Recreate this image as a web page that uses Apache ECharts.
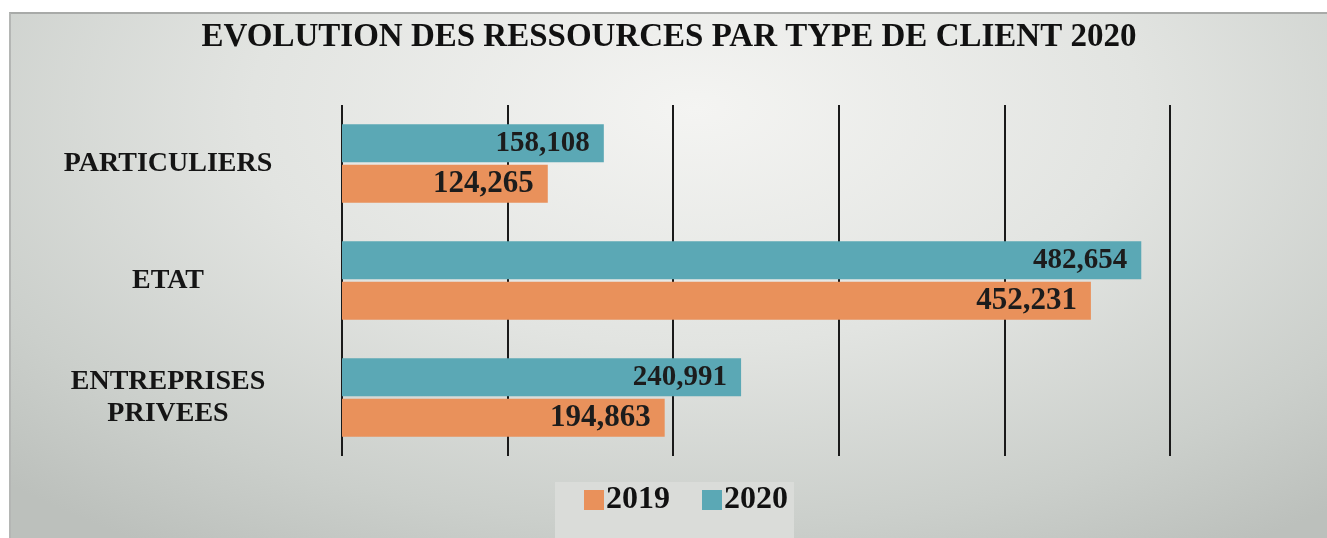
<!DOCTYPE html>
<html>
<head>
<meta charset="utf-8">
<script src="https://cdn.jsdelivr.net/npm/echarts@6/dist/echarts.min.js"></script>
<style>
  html, body { margin: 0; padding: 0; background: #fff; }
  #chart {
    position: absolute;
    left: 9px;
    top: 12px;
    width: 1318px;
    height: 526px;
    border-top: 2px solid #a8aaa8;
    border-left: 2px solid #b4b6b4;
    box-sizing: border-box;
    background: radial-gradient(ellipse 75% 100% at 52% 18%, #f4f4f2 0%, #e2e4e1 45%, #cbcfcb 80%, #bcc0bc 100%);
  }
</style>
</head>
<body>
<div id="chart"></div>
<script>
// categories listed bottom to top (ECharts category y axis grows upward)
const categories = ['ENTREPRISES\nPRIVEES', 'ETAT', 'PARTICULIERS'];
const values2019 = [194863, 452231, 124265];
const values2020 = [240991, 482654, 158108];
const seriesNames = ['2019', '2020'];
const axisMax = 500000;
const axisStep = 100000;

const serif = "'Liberation Serif', 'Times New Roman', serif";

function formatValue(params) {
  return params.value.toLocaleString('en-US');
}

function barSeries(name, data, color, labelSize) {
  return {
    name: name,
    type: 'bar',
    data: data,
    barWidth: 38,
    barGap: '6%',
    itemStyle: { color: color },
    label: {
      show: true,
      position: 'insideRight',
      distance: 14,
      formatter: formatValue,
      color: '#1c1c1c',
      fontFamily: serif,
      fontWeight: 'bold',
      fontSize: labelSize,
    },
  };
}

const chart = echarts.init(document.getElementById('chart'), null, { renderer: 'canvas' });

chart.setOption({
  animation: false,
  title: {
    text: 'EVOLUTION DES RESSOURCES PAR TYPE DE CLIENT 2020',
    left: 'center',
    top: 2,
    textStyle: {
      fontFamily: serif,
      fontWeight: 'bold',
      fontSize: 33,
      color: '#111',
    },
  },
  legend: {
    data: seriesNames,
    left: 544,
    bottom: 0,
    itemWidth: 20,
    itemHeight: 20,
    itemGap: 32,
    padding: [2, 6, 22, 29],
    backgroundColor: '#dadcd9',
    icon: 'rect',
    textStyle: {
      fontFamily: serif,
      fontWeight: 'bold',
      fontSize: 32,
      color: '#111',
      padding: [0, 0, 0, -3],
    },
  },
  grid: {
    left: 331,
    right: 157,
    top: 91,
    bottom: 82,
  },
  xAxis: {
    type: 'value',
    min: 0,
    max: axisMax,
    interval: axisStep,
    axisLabel: { show: false },
    axisLine: { show: false },
    axisTick: { show: false },
    splitLine: {
      show: true,
      lineStyle: { color: '#1a1a1a', width: 2 },
    },
  },
  yAxis: {
    type: 'category',
    data: categories,
    axisLine: { show: false },
    axisTick: { show: false },
    axisLabel: {
      margin: 174,
      align: 'center',
      fontFamily: serif,
      fontWeight: 'bold',
      fontSize: 28,
      lineHeight: 32,
      color: '#151515',
    },
  },
  // 2020 first so it sits above 2019 inside each band; legend keeps 2019 first
  series: [
    barSeries(seriesNames[1], values2020, '#5ba8b5', 29),
    barSeries(seriesNames[0], values2019, '#e9915b', 31),
  ],
});
</script>
</body>
</html>
